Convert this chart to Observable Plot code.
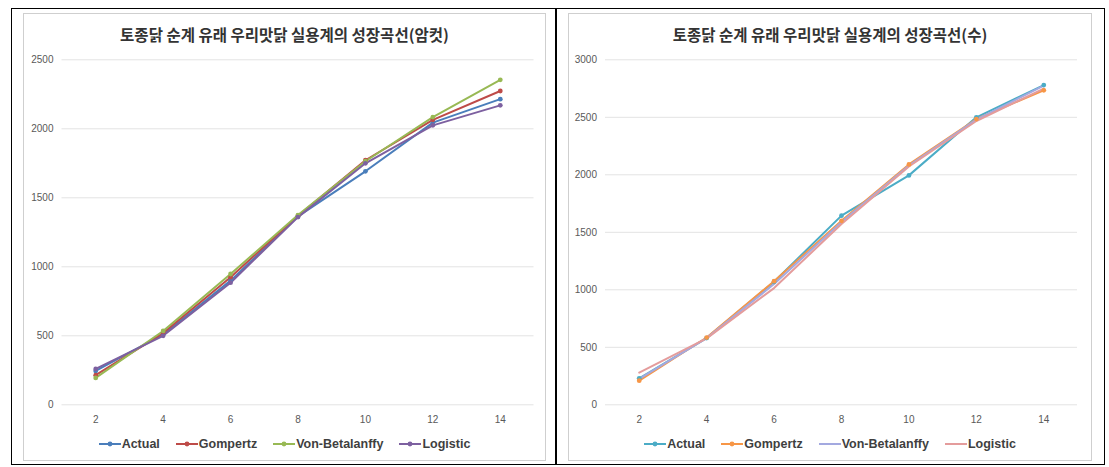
<!DOCTYPE html>
<html>
<head>
<meta charset="utf-8">
<script src="https://cdn.jsdelivr.net/npm/d3@7"></script>
<script src="https://cdn.jsdelivr.net/npm/@observablehq/plot@0.6"></script>
<style>
  body { margin: 0; background: #fff; }
  #root { position: relative; width: 1109px; height: 467px; overflow: hidden; font-family: "Liberation Sans", Arial, sans-serif; background:#fff; }
  .frame { position: absolute; left: 11px; top: 8px; width: 1094px; height: 457px; border: 1.5px solid #000; box-sizing: border-box; }
  .divider { position: absolute; left: 555px; top: 8px; width: 1.5px; height: 457px; background: #000; }
  .panel { position: absolute; top: 13px; height: 448px; border: 1px solid #cfcfcf; box-sizing: border-box; }
  .title { position: absolute; top: 23px; height: 22px; line-height: 22px; text-align: center; font-family: "Noto Sans CJK KR", sans-serif; font-weight: 700; font-size: 15.5px; color: #333; white-space: nowrap; }
  .legend { position: absolute; top: 435px; height: 17px; display: flex; justify-content: center; align-items: center; gap: 16px; font-weight: 700; font-size: 12.5px; color: #3f3f3f; white-space: nowrap; }
  .legend .item { display: flex; align-items: center; gap: 1px; }
</style>
</head>
<body>
<div id="root">
  <div class="frame"></div>
  <div class="divider"></div>
</div>
<script>
// ---- data ----
const weeks = [2, 4, 6, 8, 10, 12, 14];
const seriesNames = ["Actual", "Gompertz", "Von-Betalanffy", "Logistic"];

// Left chart: female (암컷)
const leftTitle = "토종닭 순계 유래 우리맛닭 실용계의 성장곡선(암컷)";
const leftActual   = [245, 510, 900, 1365, 1692, 2045, 2215];
const leftGompertz = [215, 520, 925, 1370, 1772, 2065, 2274];
const leftVonB     = [195, 535, 948, 1375, 1765, 2085, 2355];
const leftLogistic = [260, 500, 885, 1360, 1750, 2025, 2170];
const leftYTicks = [0, 500, 1000, 1500, 2000, 2500];

// Right chart: male (수)
const rightTitle = "토종닭 순계 유래 우리맛닭 실용계의 성장곡선(수)";
const rightActual   = [230, 580, 1070, 1645, 1995, 2500, 2780];
const rightGompertz = [210, 585, 1075, 1600, 2090, 2485, 2735];
const rightVonB     = [225, 580, 1050, 1590, 2080, 2480, 2775];
const rightLogistic = [280, 578, 1015, 1572, 2072, 2468, 2750];
const rightYTicks = [0, 500, 1000, 1500, 2000, 2500, 3000];

const xTicks = [2, 4, 6, 8, 10, 12, 14];

const leftColors  = ["#4a7ebb", "#be4b48", "#98b954", "#7d60a0"];
const rightColors = ["#4bacc6", "#f79646", "#a3a9e0", "#e49c9c"];

function rowsOf(arrs) {
  const rows = [];
  arrs.forEach((vals, i) => vals.forEach((v, j) => rows.push({week: weeks[j], value: v, series: seriesNames[i]})));
  return rows;
}

function makePanel(cfg) {
  const root = document.getElementById("root");
  const panel = document.createElement("div");
  panel.className = "panel";
  panel.style.left = cfg.left + "px";
  panel.style.width = cfg.width + "px";
  root.appendChild(panel);

  const title = document.createElement("div");
  title.className = "title";
  title.style.left = cfg.left + "px";
  title.style.width = cfg.width + "px";
  title.textContent = cfg.title;
  root.appendChild(title);

  const rows = rowsOf(cfg.data);
  const fmt = d => String(d);
  const chart = Plot.plot({
    width: cfg.width,
    height: 430,
    marginTop: 46.3,
    marginBottom: 38.7,
    marginLeft: cfg.marginLeft,
    marginRight: cfg.marginRight,
    style: {fontFamily: "'Liberation Sans', Arial, sans-serif", fontSize: "10px", color: "#595959", background: "transparent"},
    x: {domain: [1, 15]},
    y: {domain: cfg.yDomain},
    color: {domain: seriesNames, range: cfg.colors},
    marks: [
      Plot.gridY(cfg.yTicks, {stroke: "#e3e3e3", strokeOpacity: 1}),
      Plot.axisY(cfg.yTicks, {tickSize: 0, tickPadding: 8.5, label: null, fill: "#595959", tickFormat: fmt}),
      Plot.axisX(xTicks, {tickSize: 0, tickPadding: 11, label: null, fill: "#595959", tickFormat: fmt}),
      Plot.line(rows, {x: "week", y: "value", z: "series", stroke: "series", strokeWidth: 2}),
      Plot.dot(rows.filter(d => cfg.markers.includes(d.series)), {x: "week", y: "value", fill: "series", r: 2.4})
    ]
  });
  chart.style.left = cfg.left + "px";
  chart.style.position = "absolute";
  chart.style.top = "13px";
  root.appendChild(chart);

  const legend = document.createElement("div");
  legend.className = "legend";
  legend.style.left = cfg.left + "px";
  legend.style.width = cfg.width + "px";
  seriesNames.forEach((name, i) => {
    const item = document.createElement("div");
    item.className = "item";
    const sw = d3.create("svg").attr("width", 22).attr("height", 10);
    sw.append("line").attr("x1", 0).attr("x2", 22).attr("y1", 5).attr("y2", 5)
      .attr("stroke", cfg.colors[i]).attr("stroke-width", 2);
    if (cfg.markers.includes(name)) {
      sw.append("circle").attr("cx", 11).attr("cy", 5).attr("r", 2.4).attr("fill", cfg.colors[i]);
    }
    item.appendChild(sw.node());
    const t = document.createElement("span");
    t.textContent = name;
    item.appendChild(t);
    legend.appendChild(item);
  });
  root.appendChild(legend);
}

makePanel({
  left: 23, width: 523, marginLeft: 38.5, marginRight: 12.5,
  title: leftTitle,
  data: [leftActual, leftGompertz, leftVonB, leftLogistic],
  yDomain: [0, 2500], yTicks: leftYTicks,
  colors: leftColors,
  markers: seriesNames
});

makePanel({
  left: 568, width: 524, marginLeft: 37, marginRight: 15,
  title: rightTitle,
  data: [rightActual, rightGompertz, rightVonB, rightLogistic],
  yDomain: [0, 3000], yTicks: rightYTicks,
  colors: rightColors,
  markers: ["Actual", "Gompertz"]
});
</script>
</body>
</html>
